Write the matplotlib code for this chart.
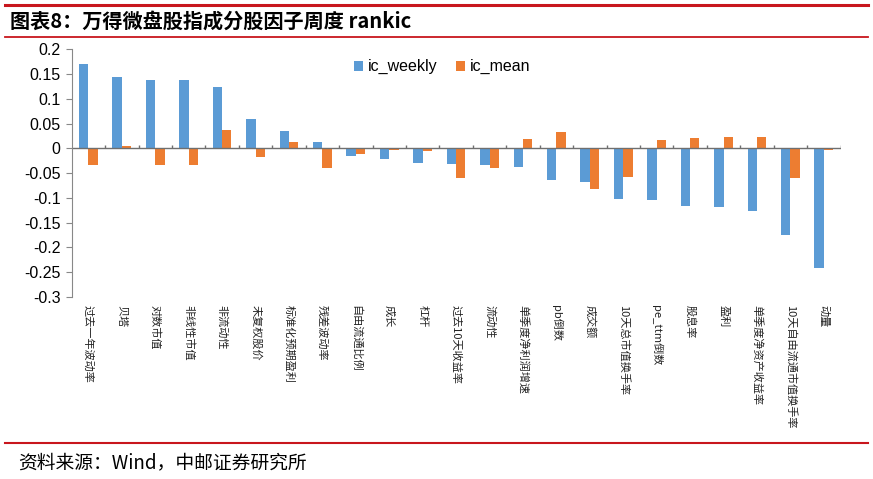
import numpy as np
import matplotlib
matplotlib.use("Agg")
import matplotlib.pyplot as plt
from matplotlib.lines import Line2D

plt.rcParams['font.family'] = ['Noto Sans CJK SC', 'DejaVu Sans']

# data
factors = ['过去一年波动率', '贝塔', '对数市值', '非线性市值', '非流动性', '未复权股价',
           '标准化预期盈利', '残差波动率', '自由流通比例', '成长', '杠杆', '过去10天收益率',
           '流动性', '单季度净利润增速', 'pb倒数', '成交额', '10天总市值换手率', 'pe_ttm倒数',
           '股息率', '盈利', '单季度净资产收益率', '10天自由流通市值换手率', '动量']
ic_weekly = [0.170, 0.145, 0.138, 0.138, 0.124, 0.060, 0.035, 0.013, -0.015, -0.022,
             -0.030, -0.031, -0.033, -0.038, -0.064, -0.067, -0.102, -0.105, -0.116,
             -0.118, -0.126, -0.174, -0.241]
ic_mean = [-0.034, 0.004, -0.033, -0.033, 0.038, -0.017, 0.013, -0.040, -0.012, -0.004,
           -0.005, -0.060, -0.040, 0.019, 0.033, -0.081, -0.058, 0.017, 0.021, 0.022,
           0.022, -0.060, -0.004]

blue = '#5B9BD5'
orange = '#ED7D31'
red = '#C8161D'

fig = plt.figure(figsize=(8.73, 4.79), dpi=100)
ax = fig.add_axes([0.0821, 0.380, 0.8807, 0.517])

x = np.arange(len(factors))
w = 0.28
ax.bar(x - w / 2, ic_weekly, w, color=blue, label='ic_weekly')
ax.bar(x + w / 2, ic_mean, w, color=orange, label='ic_mean')

ax.set_xlim(-0.5, len(factors) - 0.5)
ax.set_ylim(-0.3, 0.2)
ax.set_yticks(np.arange(-0.3, 0.2001, 0.05))
ax.set_yticklabels(['-0.3', '-0.25', '-0.2', '-0.15', '-0.1', '-0.05', '0',
                    '0.05', '0.1', '0.15', '0.2'], family=['Liberation Sans'])
ax.tick_params(axis='y', labelsize=11.5, length=4, color='#888888', pad=4)

ax.set_xticks(x)
ax.set_xticklabels(factors, rotation=-90, fontsize=8, color='#222222')
ax.tick_params(axis='x', length=0, pad=6)

for s in ['top', 'right', 'bottom']:
    ax.spines[s].set_visible(False)
ax.spines['left'].set_color('#888888')

# zero axis with category boundary ticks
ax.axhline(0, color='#6f6f6f', lw=1)
ax.vlines(x[:-1] + 0.5, 0, 0.006, color='#6f6f6f', lw=1)
ax.vlines(len(factors) - 0.5, 0, 0.006, color='#6f6f6f', lw=1)

leg = ax.legend(loc='center', bbox_to_anchor=(0.482, 0.929), ncol=2, frameon=False,
                prop={'family': 'Liberation Sans', 'size': 11.5}, handlelength=0.55,
                handleheight=0.55, handletextpad=0.3, columnspacing=1.2)

# header / footer
fig.add_artist(Line2D([0.006, 0.994], [1 - 5 / 479, 1 - 5 / 479], color=red, lw=2.2))
fig.add_artist(Line2D([0.006, 0.994], [1 - 37 / 479, 1 - 37 / 479], color=red, lw=1.3))
fig.add_artist(Line2D([0.006, 0.994], [1 - 443 / 479, 1 - 443 / 479], color=red, lw=1.5))
fig.text(0.011, 1 - 21 / 479, '图表8：万得微盘股指成分股因子周度 rankic', fontsize=14.5,
         fontweight='bold', va='center', ha='left')
fig.text(0.021, 1 - 463 / 479, '资料来源：Wind，中邮证券研究所', fontsize=13.5,
         va='center', ha='left')

fig.savefig('out.png', dpi=100)
